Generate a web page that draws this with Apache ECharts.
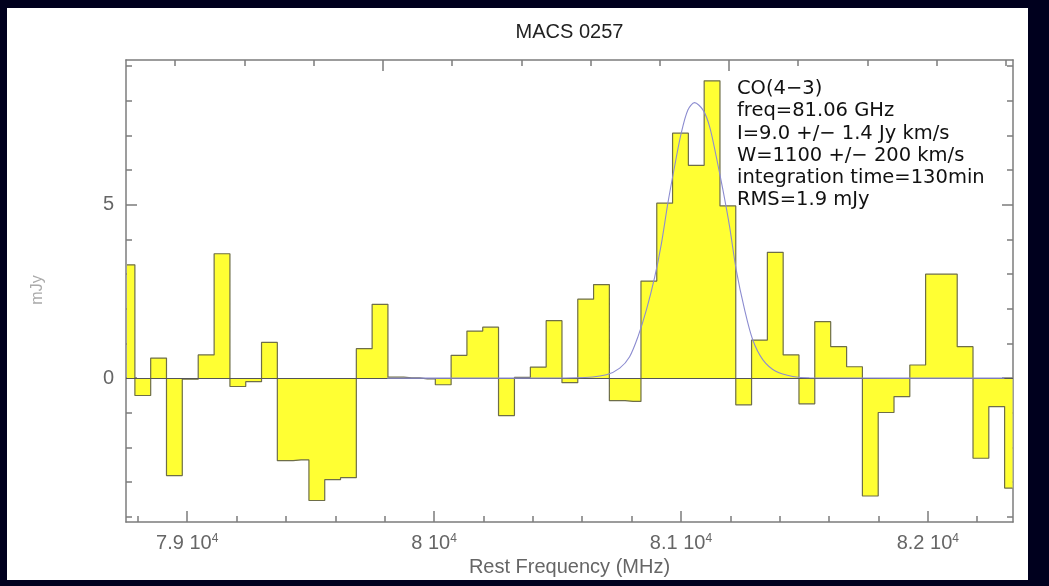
<!DOCTYPE html>
<html>
<head>
<meta charset="utf-8">
<script src="https://cdn.jsdelivr.net/npm/echarts@6/dist/echarts.min.js"></script>
<style>html,body{margin:0;padding:0;background:#00001e;}#c{width:1049px;height:586px;}</style>
</head>
<body>
<div id="c"></div>
<script>
// channel centre frequencies (MHz) and flux (mJy)
const freqMHz = [78756, 78820, 78884, 78948, 79012, 79077, 79141, 79205, 79269, 79333,
  79397, 79461, 79525, 79589, 79653, 79717, 79781, 79845, 79909, 79973,
  80037, 80101, 80165, 80229, 80293, 80358, 80422, 80486, 80550, 80614,
  80678, 80742, 80806, 80870, 80934, 80998, 81062, 81126, 81190, 81254,
  81318, 81382, 81446, 81510, 81574, 81639, 81703, 81767, 81831, 81895,
  81959, 82023, 82087, 82151, 82215, 82279, 82343];
const fluxMJy = [3.27, -0.50, 0.58, -2.81, -0.03, 0.67, 3.59, -0.24, -0.10, 1.03,
  -2.38, -2.36, -3.53, -2.93, -2.87, 0.85, 2.13, 0.03, 0.01, -0.02,
  -0.19, 0.66, 1.36, 1.47, -1.08, 0.02, 0.32, 1.66, -0.13, 2.28,
  2.70, -0.65, -0.67, 2.80, 5.05, 7.07, 6.14, 8.58, 4.97, -0.77,
  1.10, 3.63, 0.67, -0.74, 1.63, 0.91, 0.33, -3.40, -0.99, -0.53,
  0.38, 3.00, 3.00, 0.91, -2.31, -0.82, -3.17];

// Gaussian fit curve
const fitFreqMHz = [79810, 80300, 80578, 80698, 80752, 80792, 80826, 80860, 80894, 80921,
  80947, 80974, 81001, 81028, 81055, 81089, 81116, 81143, 81170, 81197,
  81224, 81258, 81291, 81332, 81386, 81453, 81520, 82310];
const fitFlux = [0, 0, 0.01, 0.10, 0.29, 0.62, 1.20, 1.97, 2.93, 3.89,
  5.05, 6.10, 7.07, 7.74, 7.95, 7.74, 7.26, 6.39, 5.43, 4.37,
  3.12, 1.97, 1.10, 0.53, 0.19, 0.05, 0.01, 0];

// ticks
const xMajorTicks = [79000, 80000, 81000, 82000];
const xMinorTicks = [78800, 79200, 79400, 79600, 79800, 80200, 80400, 80600, 80800,
  81200, 81400, 81600, 81800, 82200];
const topMajorTicks = [79792, 81193];
const topMinorTicks = [78948, 79233, 79513, 80072, 80355, 80635, 80916, 81472, 81755, 82037, 82317];
const yMajorTicks = [0, 5];
const yMinorTicks = [-4, -3, -2, -1, 1, 2, 3, 4, 6, 7, 8, 9];

const titleText = 'MACS 0257';
const xName = 'Rest Frequency (MHz)';
const yName = 'mJy';
const annotationLines = ['CO(4\u22123)', 'freq=81.06 GHz', 'I=9.0 +/\u2212 1.4 Jy km/s',
  'W=1100 +/\u2212 200 km/s', 'integration time=130min', 'RMS=1.9 mJy'];

const X_MIN = 78752, X_MAX = 82345, Y_MIN = -4.15, Y_MAX = 9.18;
const frame = '#7c7c7c';
const labelColor = '#666';
const labelFont = 'Liberation Sans';

function xAx(extra) {
  return Object.assign({
    type: 'value', min: X_MIN, max: X_MAX, gridIndex: 0,
    splitLine: {show: false},
    axisLine: {show: false, onZero: false},
    axisLabel: {show: false},
    axisTick: {show: false}
  }, extra);
}
function yAx(extra) {
  return Object.assign({
    type: 'value', min: Y_MIN, max: Y_MAX, gridIndex: 0,
    splitLine: {show: false},
    axisLine: {show: false, onZero: false},
    axisLabel: {show: false},
    axisTick: {show: false}
  }, extra);
}
const tickStyle = {color: frame, width: 1.5};

const chart = echarts.init(document.getElementById('c'), null, {renderer: 'canvas'});
chart.setOption({
  backgroundColor: '#00001e',
  animation: false,
  grid: {left: 126, top: 60, right: 36, bottom: 64, containLabel: false, outerBoundsMode: 'none'},
  xAxis: [
    xAx({
      position: 'bottom',
      axisLine: {show: true, onZero: false, lineStyle: {color: frame, width: 1.5}},
      axisTick: {show: true, inside: true, length: 11, customValues: xMajorTicks, lineStyle: tickStyle},
      axisLabel: {
        show: true, customValues: xMajorTicks, margin: 11,
        color: labelColor, fontFamily: labelFont, fontSize: 20,
        formatter: function (v) { return String(+(v / 1e4).toFixed(2)) + ' 10{s|4}'; },
        rich: {s: {fontSize: 12, verticalAlign: 'top', color: labelColor, fontFamily: labelFont, padding: [0, 0, 8, 0]}}
      },
      name: xName, nameLocation: 'middle', nameGap: 34,
      nameTextStyle: {color: labelColor, fontFamily: labelFont, fontSize: 20}
    }),
    xAx({
      position: 'bottom',
      axisLine: {show: false, onZero: false},
      axisTick: {show: true, inside: true, length: 6, customValues: xMinorTicks, lineStyle: tickStyle}
    }),
    xAx({
      position: 'top',
      axisLine: {show: true, onZero: false, lineStyle: {color: frame, width: 1.5}},
      axisTick: {show: true, inside: true, length: 6, customValues: topMinorTicks, lineStyle: tickStyle}
    }),
    xAx({
      position: 'top',
      axisLine: {show: false, onZero: false},
      axisTick: {show: true, inside: true, length: 11, customValues: topMajorTicks, lineStyle: tickStyle}
    })
  ],
  yAxis: [
    yAx({
      position: 'left',
      axisLine: {show: true, onZero: false, lineStyle: {color: frame, width: 1.5}},
      axisTick: {show: true, inside: true, length: 11, customValues: yMajorTicks, lineStyle: tickStyle},
      axisLabel: {show: true, customValues: yMajorTicks, margin: 12, color: labelColor, fontFamily: labelFont, fontSize: 20}
    }),
    yAx({
      position: 'left',
      axisLine: {show: false, onZero: false},
      axisTick: {show: true, inside: true, length: 6, customValues: yMinorTicks, lineStyle: tickStyle}
    }),
    yAx({
      position: 'right',
      axisLine: {show: true, onZero: false, lineStyle: {color: frame, width: 1.5}},
      axisTick: {show: true, inside: true, length: 11, customValues: yMajorTicks, lineStyle: tickStyle}
    }),
    yAx({
      position: 'right',
      axisLine: {show: false, onZero: false},
      axisTick: {show: true, inside: true, length: 6, customValues: yMinorTicks, lineStyle: tickStyle}
    })
  ],
  series: [
    {
      type: 'line', step: 'middle', xAxisIndex: 0, yAxisIndex: 0,
      data: freqMHz.map(function (f, i) { return [f, fluxMJy[i]]; }),
      showSymbol: false, symbol: 'none',
      lineStyle: {color: '#6e6e48', width: 1.2},
      areaStyle: {color: '#ffff33', opacity: 1},
      z: 2,
      markLine: {
        silent: true, symbol: 'none', label: {show: false},
        lineStyle: {color: '#555', width: 1.2, type: 'solid'},
        data: [{yAxis: 0}]
      }
    },
    {
      type: 'line', xAxisIndex: 0, yAxisIndex: 0,
      data: fitFreqMHz.map(function (f, i) { return [f, fitFlux[i]]; }),
      smooth: 0.3, showSymbol: false, symbol: 'none',
      lineStyle: {color: '#8c8cd0', width: 1.1},
      z: 5
    }
  ],
  graphic: [
    {type: 'rect', z: -10, silent: true, shape: {x: 7, y: 8, width: 1021, height: 572}, style: {fill: '#ffffff'}},
    {type: 'text', z: 100, x: 569.5, y: 32, style: {text: titleText, fill: '#222', font: '20px "Liberation Sans"', textAlign: 'center', textVerticalAlign: 'middle'}},
    {type: 'text', z: 100, x: 38, y: 290, rotation: Math.PI / 2, style: {text: yName, fill: '#aaa', font: '16px "Liberation Sans"', textAlign: 'center', textVerticalAlign: 'middle'}},
    {type: 'text', z: 100, x: 737, y: 78, style: {text: annotationLines.join('\n'), fill: '#111', font: '19.5px "DejaVu Sans"', lineHeight: 22.2, textAlign: 'left', textVerticalAlign: 'top'}}
  ]
});
</script>
</body>
</html>
